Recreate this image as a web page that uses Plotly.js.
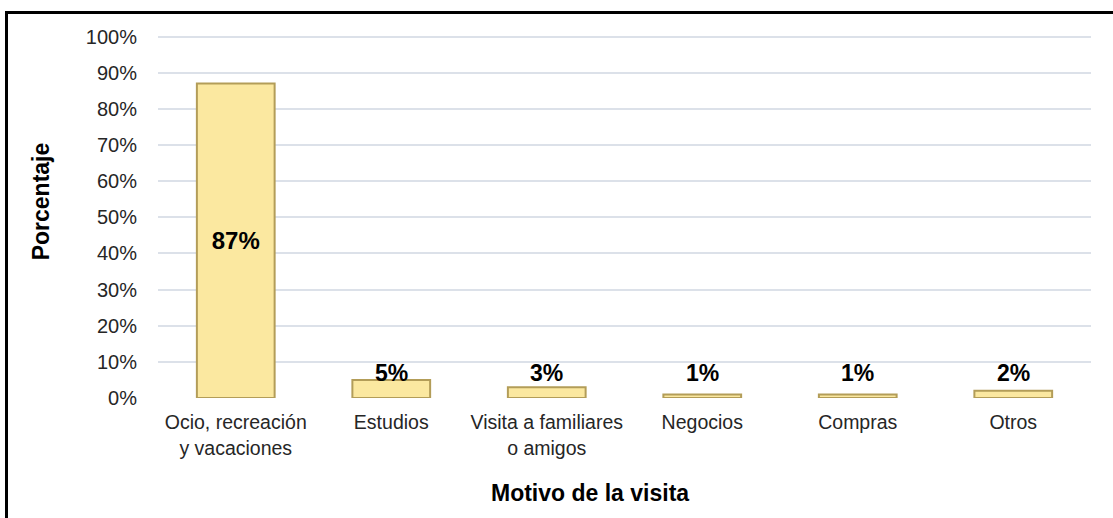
<!DOCTYPE html>
<html>
<head>
<meta charset="utf-8">
<script src="https://cdn.plot.ly/plotly-3.0.1.min.js"></script>
<style>
  html, body { margin: 0; padding: 0; overflow: hidden; background: #fff; }
  #chart { width: 1113px; height: 518px; }
  #frame { position: absolute; left: 5px; top: 11px; width: 2000px; height: 2000px;
           border-left: 3px solid #000; border-top: 3px solid #000; pointer-events: none; }
</style>
</head>
<body>
<div id="chart"></div>
<div id="frame"></div>
<script>
const categories = ["Ocio, recreación<br>y vacaciones", "Estudios", "Visita a familiares<br>o amigos", "Negocios", "Compras", "Otros"];
const values = [87, 5, 3, 1, 1, 2];
const valueLabels = ["87%", "5%", "3%", "1%", "1%", "2%"];
const labelInside = [true, false, false, false, false, false];
const yTickVals = [0, 10, 20, 30, 40, 50, 60, 70, 80, 90, 100];
const yTickText = ["0%", "10%", "20%", "30%", "40%", "50%", "60%", "70%", "80%", "90%", "100%"];
const xTitle = "Motivo de la visita";
const yTitle = "Porcentaje";

const FONT = "Liberation Sans, Arial, sans-serif";
const LABEL_FONT = { family: FONT, size: 23, color: "#000", weight: "bold" };
const OUTSIDE_LABEL_Y = 6.9; // label row height (axis units) used for small bars

const trace = {
  type: "bar",
  x: categories,
  y: values,
  text: valueLabels.map((t, i) => labelInside[i] ? t : ""),
  textposition: "inside",
  insidetextanchor: "middle",
  textangle: 0,
  constraintext: "none",
  textfont: { family: FONT, size: 24, color: "#000", weight: "bold" },
  marker: { color: "#FBE8A0", line: { color: "#B39D58", width: 2 } },
  hoverinfo: "skip"
};

const outsideLabels = categories.map((c, i) => labelInside[i] ? null : {
  text: valueLabels[i], x: c, y: Math.max(values[i], OUTSIDE_LABEL_Y), xref: "x", yref: "y",
  xanchor: "center", yanchor: "middle", showarrow: false, font: LABEL_FONT
}).filter(a => a);

const layout = {
  width: 1113,
  height: 518,
  margin: { l: 158, r: 22, t: 33, b: 120 },
  paper_bgcolor: "#fff",
  plot_bgcolor: "#fff",
  showlegend: false,
  bargap: 0.5,
  font: { family: FONT, size: 19, color: "#262626" },
  xaxis: {
    type: "category",
    showgrid: false,
    showline: false,
    zeroline: false,
    ticks: "outside",
    ticklen: 7,
    tickcolor: "rgba(0,0,0,0)",
    tickfont: { family: FONT, size: 19.5, color: "#262626" },
    automargin: false
  },
  yaxis: {
    range: [0, 101],
    tickvals: yTickVals,
    ticktext: yTickText,
    showgrid: true,
    gridcolor: "#DCE1E9",
    gridwidth: 2,
    zeroline: false,
    showline: false,
    ticks: "outside",
    ticklen: 16,
    tickcolor: "rgba(0,0,0,0)",
    tickfont: { family: FONT, size: 20, color: "#262626" },
    automargin: false
  },
  annotations: [
    {
      text: xTitle, xref: "paper", yref: "paper", x: 0.463, y: -0.26,
      xanchor: "center", yanchor: "middle", showarrow: false,
      font: { family: FONT, size: 23, color: "#000", weight: "bold" }
    },
    {
      text: yTitle, xref: "paper", yref: "paper", x: -0.1254, y: 0.5388,
      xanchor: "center", yanchor: "middle", showarrow: false, textangle: -90,
      font: { family: FONT, size: 23, color: "#000", weight: "bold" }
    }
  ].concat(outsideLabels)
};

Plotly.newPlot("chart", [trace], layout, { staticPlot: true, displayModeBar: false });
</script>
</body>
</html>
